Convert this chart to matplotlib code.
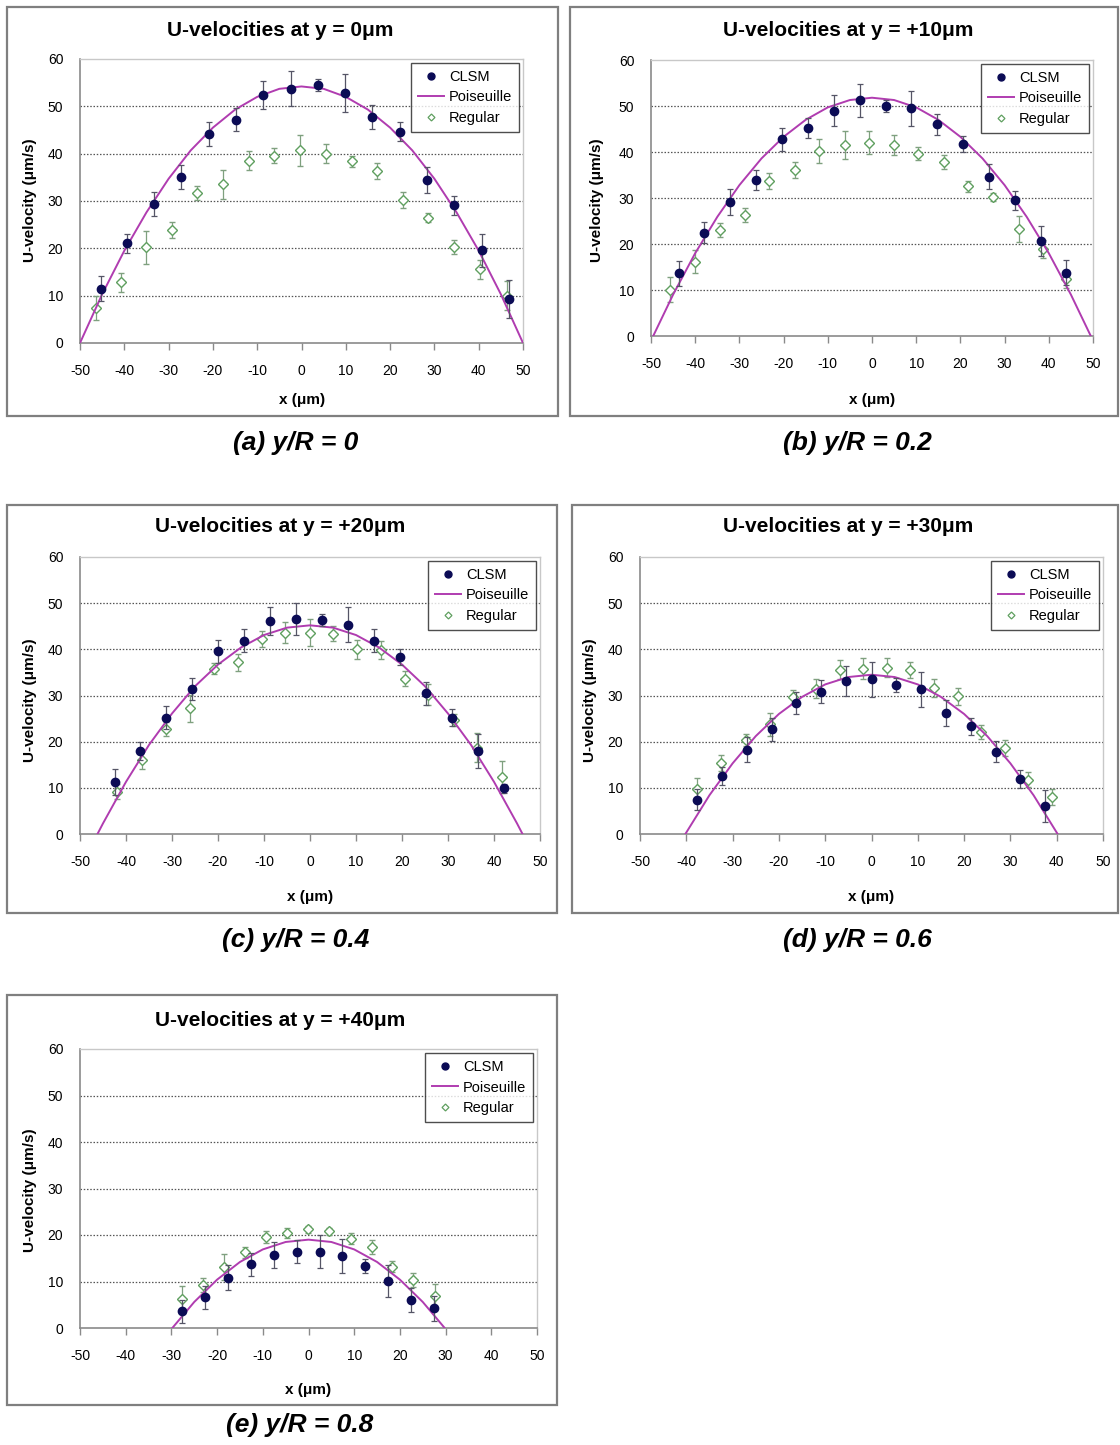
import matplotlib
matplotlib.use("Agg")
import matplotlib.pyplot as plt
from matplotlib import font_manager
from matplotlib.patches import Rectangle
from matplotlib.lines import Line2D

# ---------------- data ----------------
panel_titles = ["U-velocities at y = 0\u03bcm", "U-velocities at y = +10\u03bcm",
                "U-velocities at y = +20\u03bcm", "U-velocities at y = +30\u03bcm",
                "U-velocities at y = +40\u03bcm"]
captions = ["(a) y/R = 0", "(b) y/R = 0.2", "(c) y/R = 0.4", "(d) y/R = 0.6", "(e) y/R = 0.8"]
x_ticks = [-50, -40, -30, -20, -10, 0, 10, 20, 30, 40, 50]
y_ticks = [0, 10, 20, 30, 40, 50, 60]

# (a) y/R = 0
a_clsm_x = [-45.3, -39.3, -33.3, -27.1, -20.9, -14.8, -8.6, -2.4, 3.8, 9.8, 16.0, 22.2, 28.3, 34.5, 40.7, 46.8]
a_clsm_u = [11.5, 21.1, 29.4, 35.1, 44.1, 47.2, 52.4, 53.7, 54.5, 52.8, 47.8, 44.6, 34.4, 29.1, 19.6, 9.3]
a_clsm_e = [2.6, 2.0, 2.5, 2.5, 2.5, 2.5, 3.0, 3.7, 1.2, 4.0, 2.5, 2.0, 2.7, 2.0, 3.5, 4.0]
a_reg_x = [-46.5, -40.8, -35.0, -29.2, -23.5, -17.7, -11.8, -6.1, -0.4, 5.5, 11.3, 17.1, 22.9, 28.6, 34.4, 40.2, 46.5]
a_reg_u = [7.4, 12.8, 20.2, 23.9, 31.7, 33.5, 38.5, 39.6, 40.7, 40.0, 38.4, 36.3, 30.3, 26.5, 20.2, 15.6, 10.0]
a_reg_e = [2.5, 2.0, 3.5, 1.7, 1.5, 3.0, 2.0, 1.5, 3.2, 2.0, 1.2, 1.7, 1.7, 1.0, 1.5, 2.0, 3.0]
a_pois_x = [-50, -45, -40, -35, -30, -25, -20, -15, -10, -5, 0, 5, 10, 15, 20, 25, 30, 35, 40, 45, 50]
a_pois_u = [0, 10.3, 19.5, 27.6, 34.7, 40.7, 45.5, 49.3, 52.0, 53.7, 54.2, 53.7, 52.0, 49.3, 45.5, 40.7, 34.7, 27.6, 19.5, 10.3, 0]

# (b) y/R = 0.2
b_clsm_x = [-43.7, -37.9, -32.1, -26.2, -20.3, -14.5, -8.6, -2.8, 3.1, 8.9, 14.7, 20.6, 26.4, 32.3, 38.2, 44.0]
b_clsm_u = [13.6, 22.5, 29.1, 33.9, 42.8, 45.3, 49.0, 51.2, 50.0, 49.5, 46.0, 41.7, 34.6, 29.5, 20.7, 13.8]
b_clsm_e = [2.7, 2.3, 2.8, 2.2, 2.5, 2.2, 3.3, 3.6, 1.2, 3.8, 2.2, 1.8, 2.7, 2.0, 3.3, 2.7]
b_reg_x = [-45.7, -40.0, -34.4, -28.7, -23.2, -17.5, -11.9, -6.2, -0.6, 4.9, 10.5, 16.2, 21.8, 27.4, 33.2, 38.7, 44.0]
b_reg_u = [10.1, 16.1, 23.0, 26.3, 33.7, 36.1, 40.2, 41.5, 42.0, 41.5, 39.6, 37.9, 32.6, 30.2, 23.3, 18.9, 12.3]
b_reg_e = [2.8, 2.5, 1.5, 1.6, 1.7, 1.8, 2.6, 3.0, 2.5, 2.2, 1.4, 1.5, 1.2, 0.9, 2.8, 2.0, 1.8]
b_pois_x = [-49.5, -45, -40, -35, -30, -25, -20, -15, -10, -5, 0, 5, 10, 15, 20, 25, 30, 35, 40, 45, 49.5]
b_pois_u = [0, 9.0, 18.0, 25.9, 32.8, 38.6, 43.3, 47.0, 49.7, 51.3, 51.8, 51.3, 49.7, 47.0, 43.3, 38.6, 32.8, 25.9, 18.0, 9.0, 0]

# (c) y/R = 0.4
c_clsm_x = [-42.4, -37.0, -31.2, -25.6, -19.9, -14.3, -8.6, -3.0, 2.6, 8.3, 13.9, 19.5, 25.2, 30.9, 36.5, 42.1]
c_clsm_u = [11.2, 18.0, 25.2, 31.4, 39.6, 41.9, 46.1, 46.5, 46.3, 45.3, 41.9, 38.3, 30.5, 25.2, 18.0, 9.9]
c_clsm_e = [2.8, 2.0, 2.5, 2.3, 2.5, 2.4, 3.1, 3.5, 1.3, 3.8, 2.5, 1.8, 2.5, 1.8, 3.6, 1.0]
c_reg_x = [-42.0, -36.6, -31.3, -26.0, -20.9, -15.6, -10.5, -5.4, -0.1, 5.1, 10.3, 15.4, 20.7, 25.7, 31.2, 36.4, 41.7]
c_reg_u = [9.2, 16.0, 22.7, 27.2, 35.8, 37.2, 42.2, 43.6, 43.6, 43.4, 40.0, 39.9, 33.6, 30.2, 24.7, 18.7, 12.3]
c_reg_e = [1.7, 2.0, 1.5, 2.9, 1.2, 1.8, 1.8, 2.3, 2.9, 1.7, 2.1, 1.9, 1.6, 2.3, 1.2, 3.2, 3.5]
c_pois_x = [-46.2, -45, -40, -35, -30, -25, -20, -15, -10, -5, 0, 5, 10, 15, 20, 25, 30, 35, 40, 45, 46.2]
c_pois_u = [0, 2.3, 11.3, 19.3, 26.1, 32.0, 36.7, 40.4, 43.1, 44.7, 45.2, 44.7, 43.1, 40.4, 36.7, 32.0, 26.1, 19.3, 11.3, 2.3, 0]

# (d) y/R = 0.6
d_clsm_x = [-37.7, -32.3, -26.9, -21.5, -16.2, -10.8, -5.5, 0.1, 5.3, 10.7, 16.1, 21.4, 26.8, 32.1, 37.5]
d_clsm_u = [7.4, 12.6, 18.3, 22.7, 28.4, 30.8, 33.1, 33.5, 32.2, 31.3, 26.3, 23.3, 17.8, 11.9, 6.1]
d_clsm_e = [2.3, 2.0, 2.8, 2.5, 2.3, 2.5, 3.3, 3.8, 1.5, 3.8, 2.8, 1.8, 2.3, 1.9, 3.5]
d_reg_x = [-37.7, -32.4, -27.1, -22.0, -17.0, -11.9, -6.9, -1.8, 3.3, 8.4, 13.5, 18.7, 23.7, 28.8, 33.9, 39.0]
d_reg_u = [9.8, 15.4, 20.3, 23.8, 29.7, 31.5, 35.6, 35.8, 36.0, 35.5, 31.6, 29.8, 22.1, 18.6, 11.8, 8.0]
d_reg_e = [2.3, 1.7, 1.3, 2.5, 1.5, 2.0, 2.0, 2.3, 2.1, 1.8, 2.0, 1.9, 1.6, 1.7, 1.7, 1.8]
d_pois_x = [-40.2, -35, -30, -25, -20, -15, -10, -5, 0, 5, 10, 15, 20, 25, 30, 35, 40.2]
d_pois_u = [0, 8.4, 15.3, 21.2, 26.0, 29.7, 32.4, 34.0, 34.5, 34.0, 32.4, 29.7, 26.0, 21.2, 15.3, 8.4, 0]

# (e) y/R = 0.8
e_clsm_x = [-27.7, -22.7, -17.7, -12.6, -7.6, -2.6, 2.5, 7.4, 12.4, 17.5, 22.4, 27.5]
e_clsm_u = [3.6, 6.6, 10.8, 13.7, 15.7, 16.4, 16.4, 15.5, 13.4, 10.1, 6.0, 4.2]
e_clsm_e = [2.5, 2.5, 2.7, 2.5, 2.8, 2.5, 3.5, 3.7, 1.5, 3.5, 2.5, 2.6]
e_reg_x = [-27.7, -23.1, -18.4, -13.8, -9.2, -4.6, -0.1, 4.5, 9.2, 13.8, 18.2, 22.9, 27.7]
e_reg_u = [6.3, 9.3, 13.1, 16.3, 19.5, 20.4, 21.2, 20.8, 19.2, 17.4, 13.2, 10.4, 6.8]
e_reg_e = [2.8, 1.5, 2.8, 1.2, 1.3, 1.1, 0.8, 0.7, 1.2, 1.5, 1.2, 1.5, 2.6]
e_pois_x = [-29.8, -25, -20, -15, -10, -5, 0, 5, 10, 15, 20, 25, 29.8]
e_pois_u = [0, 5.6, 10.4, 14.2, 16.9, 18.5, 19.0, 18.5, 16.9, 14.2, 10.4, 5.6, 0]

# ---------------- style / layout ----------------
names = {f.name for f in font_manager.fontManager.ttflist}
SANS = "Liberation Sans" if "Liberation Sans" in names else "DejaVu Sans"
NARROW = "Liberation Sans Narrow" if "Liberation Sans Narrow" in names else SANS
plt.rcParams["font.family"] = [SANS, "DejaVu Sans"]

W, H = 1120, 1445
fig = plt.figure(figsize=(W / 100, H / 100), dpi=100)
fig.patch.set_facecolor("white")


def fx(px):
    return px / W


def fy(py):
    return 1 - py / H


panels = [
    dict(box=(7, 7, 558, 416), ax=(80, 59, 523, 343), title=(280, 31), ylab=(30, 200), xlab=(302, 400), cap=(296, 443),
         data=(a_clsm_x, a_clsm_u, a_clsm_e, a_reg_x, a_reg_u, a_reg_e, a_pois_x, a_pois_u)),
    dict(box=(570, 7, 1118, 416), ax=(651, 60, 1093, 336), title=(848, 31), ylab=(597, 200), xlab=(872, 400), cap=(857, 443),
         data=(b_clsm_x, b_clsm_u, b_clsm_e, b_reg_x, b_reg_u, b_reg_e, b_pois_x, b_pois_u)),
    dict(box=(7, 505, 557, 913), ax=(80, 557, 540, 834), title=(280, 527), ylab=(30, 700), xlab=(310, 897), cap=(296, 940),
         data=(c_clsm_x, c_clsm_u, c_clsm_e, c_reg_x, c_reg_u, c_reg_e, c_pois_x, c_pois_u)),
    dict(box=(572, 505, 1118, 913), ax=(640, 557, 1103, 834), title=(848, 527), ylab=(590, 700), xlab=(871, 897), cap=(857, 940),
         data=(d_clsm_x, d_clsm_u, d_clsm_e, d_reg_x, d_reg_u, d_reg_e, d_pois_x, d_pois_u)),
    dict(box=(7, 995, 557, 1405), ax=(80, 1049, 537, 1328), title=(280, 1020), ylab=(30, 1190), xlab=(308, 1390), cap=(300, 1425),
         data=(e_clsm_x, e_clsm_u, e_clsm_e, e_reg_x, e_reg_u, e_reg_e, e_pois_x, e_pois_u)),
]

NAVY = "#0b0b55"
GREEN = "#5f9f5f"
MAGENTA = "#b03cb0"

for i, p in enumerate(panels):
    x0, y0, x1, y1 = p["box"]
    fig.patches.append(Rectangle((fx(x0), fy(y1)), fx(x1 - x0), (y1 - y0) / H, transform=fig.transFigure,
                                 facecolor="none", edgecolor="#7f7f7f", linewidth=1.6, zorder=-1))
    ax0, ay0, ax1, ay1 = p["ax"]
    ax = fig.add_axes([fx(ax0), fy(ay1), fx(ax1 - ax0), (ay1 - ay0) / H])
    ax.set_zorder(2)
    cx, cu, ce, rx, ru, re, px, pu = p["data"]

    ax.errorbar(rx, ru, yerr=re, fmt="D", ms=4.8, mfc="white", mec=GREEN, mew=1.0,
                ecolor="#7fa07f", elinewidth=0.9, capsize=2.5, capthick=0.9, zorder=3)
    ax.plot(px, pu, color=MAGENTA, lw=1.4, zorder=4)
    ax.errorbar(cx, cu, yerr=ce, fmt="o", ms=6, mfc=NAVY, mec=NAVY,
                ecolor="#555566", elinewidth=0.9, capsize=2.5, capthick=0.9, zorder=5)

    ax.set_xlim(-50, 50)
    ax.set_ylim(0, 60)
    ax.set_xticks(x_ticks)
    ax.set_yticks(y_ticks)
    ax.set_xticklabels([str(t) for t in x_ticks], fontsize=10, family=[NARROW, SANS])
    ax.set_yticklabels([str(t) for t in y_ticks], fontsize=10, family=[NARROW, SANS])
    for t in [10, 20, 30, 40, 50]:
        ax.axhline(t, color="#555555", lw=0.9, ls=(0, (1.2, 1.4)), zorder=1)
    for side in ["top", "right"]:
        ax.spines[side].set_color("#c8c8c8")
        ax.spines[side].set_linewidth(1.0)
    for side in ["left", "bottom"]:
        ax.spines[side].set_color("#8a8a8a")
        ax.spines[side].set_linewidth(1.2)
    ax.tick_params(axis="x", direction="out", length=5, width=1.0, color="#8a8a8a", pad=10)
    ax.tick_params(axis="y", direction="out", length=0, pad=12)

    handles = [Line2D([], [], ls="none", marker="o", ms=5, mfc=NAVY, mec=NAVY),
               Line2D([], [], color=MAGENTA, lw=1.4),
               Line2D([], [], ls="none", marker="D", ms=3.5, mfc="white", mec=GREEN, mew=0.9)]
    leg = ax.legend(handles, ["CLSM", "Poiseuille", "Regular"], loc="upper right",
                    prop={"family": [NARROW, SANS], "size": 10.5}, frameon=True, fancybox=False,
                    borderaxespad=0.25, handlelength=1.8, handletextpad=0.3, labelspacing=0.45,
                    borderpad=0.5, numpoints=1)
    leg.get_frame().set_edgecolor("#222222")
    leg.get_frame().set_linewidth(1.0)

    tx, ty = p["title"]
    fig.text(fx(tx), fy(ty), panel_titles[i], ha="center", va="center", fontsize=15,
             fontweight="bold", family=[NARROW, SANS])
    lx, ly = p["ylab"]
    fig.text(fx(lx), fy(ly), "U-velocity (\u03bcm/s)", ha="center", va="center", rotation=90,
             fontsize=11, fontweight="bold", family=[NARROW, SANS])
    xx, xy = p["xlab"]
    fig.text(fx(xx), fy(xy), "x (\u03bcm)", ha="center", va="center", fontsize=11,
             fontweight="bold", family=[NARROW, SANS])
    kx, ky = p["cap"]
    fig.text(fx(kx), fy(ky), captions[i], ha="center", va="center", fontsize=19,
             fontweight="bold", fontstyle="italic", family=[NARROW, SANS])

fig.savefig("out.png", dpi=100, facecolor="white")
